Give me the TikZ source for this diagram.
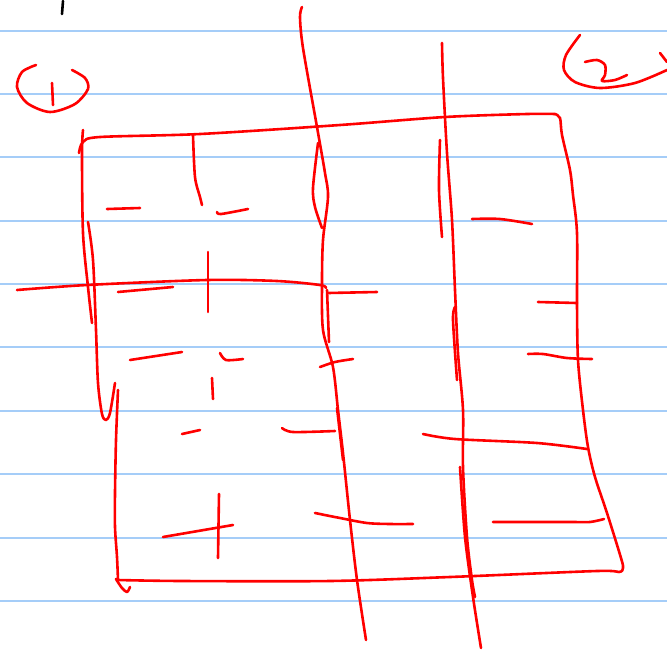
\documentclass[tikz,border=0pt]{standalone}
\begin{document}
\begin{tikzpicture}[x=1pt,y=-1pt,
  ruling/.style={draw=rulecol,line width=2pt},
  ink/.style={draw=inkred,line width=2.6pt,line cap=round,line join=round},
  blk/.style={draw=black,line width=2.6pt,line cap=round}]
\definecolor{rulecol}{RGB}{165,205,248}
\definecolor{inkred}{RGB}{255,0,0}
\useasboundingbox (0,0) rectangle (667,649);
\fill[white] (0,0) rectangle (667,649);
% ruled lines
\foreach \yy in {31,94,157,221,284,347,411,474,538,601}
  \draw[ruling] (0,\yy) -- (667,\yy);
% black mark
\draw[blk] (63,1) -- (62,14);
% circle 1
\draw[ink] plot[smooth] coordinates {(36,65) (22,72) (17,87) (27,103) (50,112) (75,104) (88,89) (85,78) (72,70)};
\draw[ink] (52,83) -- (53,105);
% circle 2
\draw[ink] plot[smooth] coordinates {(580,35) (566,55) (564,70) (575,82) (600,88) (635,83) (667,70)};
\draw[ink] (660,53) -- (667,62);
\draw[ink] plot[smooth] coordinates {(585,62) (597,60) (605,65) (605,75) (602,81) (615,80) (627,75)};
% big outline
\draw[ink] plot[smooth] coordinates {(79,153) (83,142) (100,137) (200,134) (340,125) (445,117) (527,114) (555,114)};
\draw[ink] plot[smooth] coordinates {(555,114) (560,118) (562,135) (570,170) (573,195) (577,233) (577,303) (578,360) (583,410) (588,447) (595,477) (607,513) (621,558) (623,568) (619,572) (597,571) (450,577) (330,581) (182,581) (118,580)};
\draw[ink] plot[smooth] coordinates {(118,580) (116,579) (122,588) (127,592) (130,587)};
% left verticals
\draw[ink] plot[smooth] coordinates {(83,130) (82,153) (83,233) (88,287) (92,323)};
\draw[ink] plot[smooth] coordinates {(88,222) (93,260) (96,330) (98,383) (102,414) (106,420) (110,413) (115,383)};
\draw[ink] plot[smooth] coordinates {(118,390) (116,440) (115,493) (115,527) (117,557) (118,580)};
% middle horizontal line
\draw[ink] plot[smooth] coordinates {(17,290) (87,285) (207,280) (277,281) (320,285) (326,288)};
% short vertical top-middle
\draw[ink] plot[smooth] coordinates {(193,135) (195,177) (200,197) (202,205)};
% dashes left column
\draw[ink] (107,209) -- (140,208);
\draw[ink] plot[smooth] coordinates {(217,212) (221,214) (248,209)};
\draw[ink] (208,252) -- (208,312);
\draw[ink] (118,292) -- (173,287);
\draw[ink] (130,360) -- (182,352);
\draw[ink] plot[smooth] coordinates {(220,353) (226,360) (243,359)};
\draw[ink] (212,378) -- (213,399);
\draw[ink] (182,434) -- (200,430);
\draw[ink] plot[smooth] coordinates {(282,428) (293,432) (335,431)};
\draw[ink] (163,537) -- (233,525);
\draw[ink] (219,494) -- (218,558);
% long vertical line 1
\draw[ink] plot[smooth] coordinates {(302,7) (300,17) (303,48) (317,127) (325,173) (328,197) (323,240) (322,283) (323,330) (333,367) (338,410) (343,453) (350,520) (357,580) (366,640)};
\draw[ink] plot[smooth] coordinates {(318,143) (313,188) (315,207) (322,228)};
\draw[ink] (327,290) -- (329,342);
\draw[ink] (337,408) -- (343,460);
% dashes around line 1
\draw[ink] (328,293) -- (377,292);
\draw[ink] plot[smooth] coordinates {(320,367) (335,362) (353,359)};
\draw[ink] plot[smooth] coordinates {(315,513) (340,518) (367,523) (390,524) (413,524)};
% long vertical line 2
\draw[ink] plot[smooth] coordinates {(442,43) (443,78) (447,153) (452,220) (455,290) (458,353) (463,410) (463,467) (467,537) (472,580) (475,597)};
\draw[ink] plot[smooth] coordinates {(440,140) (439,190) (442,237)};
\draw[ink] plot[smooth] coordinates {(455,307) (453,320) (457,380)};
\draw[ink] plot[smooth] coordinates {(460,467) (465,537) (473,597) (481,648)};
% dashes right column
\draw[ink] plot[smooth] coordinates {(472,219) (500,219) (532,224)};
\draw[ink] (538,302) -- (577,303);
\draw[ink] plot[smooth] coordinates {(528,354) (543,354) (567,358) (592,359)};
\draw[ink] plot[smooth] coordinates {(423,434) (455,439) (537,443) (587,449)};
\draw[ink] plot[smooth] coordinates {(493,522) (570,522) (590,522) (604,519)};
\end{tikzpicture}
\end{document}
